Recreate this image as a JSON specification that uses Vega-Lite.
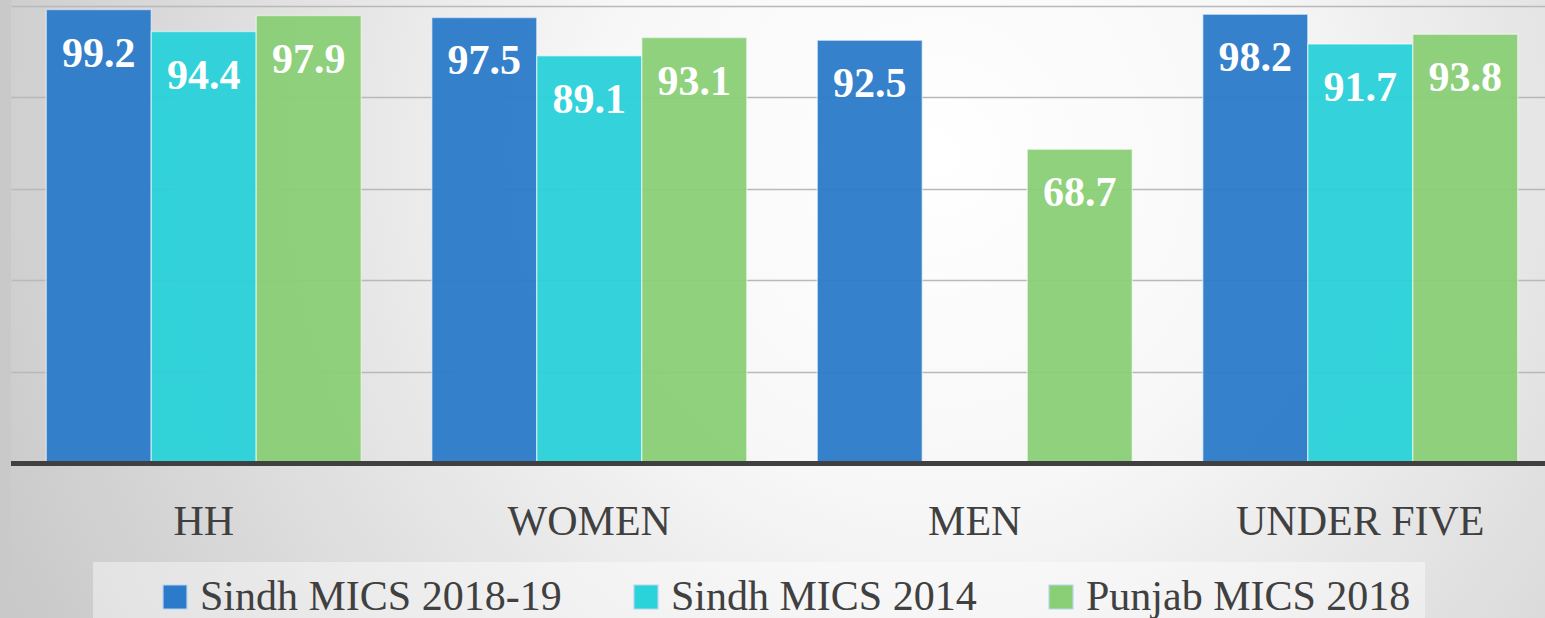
{
  "$schema": "https://vega.github.io/schema/vega-lite/v6.json",
  "autosize": "none",
  "width": 1542,
  "height": 618,
  "padding": {"left": 11, "top": 0, "right": 0, "bottom": 0},
  "background": "#c9c9c9",
  "config": {
    "view": {
      "stroke": null,
      "fill": {
        "gradient": "radial",
        "x1": 0.6, "y1": 0.4, "r1": 0,
        "x2": 0.6, "y2": 0.4, "r2": 0.75,
        "stops": [
          {"offset": 0, "color": "#ffffff"},
          {"offset": 0.3, "color": "#f7f7f7"},
          {"offset": 1, "color": "#c0c0c0"}
        ]
      }
    },
    "font": "Liberation Serif"
  },
  "data": {
    "values": [
      {"cat": "HH", "series": "Sindh MICS 2018-19", "value": 99.2},
      {"cat": "HH", "series": "Sindh MICS 2014", "value": 94.4},
      {"cat": "HH", "series": "Punjab MICS 2018", "value": 97.9},
      {"cat": "WOMEN", "series": "Sindh MICS 2018-19", "value": 97.5},
      {"cat": "WOMEN", "series": "Sindh MICS 2014", "value": 89.1},
      {"cat": "WOMEN", "series": "Punjab MICS 2018", "value": 93.1},
      {"cat": "MEN", "series": "Sindh MICS 2018-19", "value": 92.5},
      {"cat": "MEN", "series": "Punjab MICS 2018", "value": 68.7},
      {"cat": "UNDER FIVE", "series": "Sindh MICS 2018-19", "value": 98.2},
      {"cat": "UNDER FIVE", "series": "Sindh MICS 2014", "value": 91.7},
      {"cat": "UNDER FIVE", "series": "Punjab MICS 2018", "value": 93.8}
    ]
  },
  "encoding": {
    "x": {
      "field": "cat",
      "type": "nominal",
      "sort": ["HH", "WOMEN", "MEN", "UNDER FIVE"],
      "scale": {"paddingInner": 0.183, "paddingOuter": 0.0915},
      "axis": {
        "title": null,
        "orient": "bottom",
        "offset": -84,
        "domain": false,
        "ticks": false,
        "tickSize": 0,
        "labelPadding": 0,
        "labelBaseline": "alphabetic",
        "labelAngle": 0,
        "labelFont": "Liberation Serif",
        "labelFontSize": 42,
        "labelColor": "#404040",
        "labelLimit": 500,
        "grid": false
      }
    },
    "xOffset": {
      "field": "series",
      "type": "nominal",
      "scale": {"domain": ["Sindh MICS 2018-19", "Sindh MICS 2014", "Punjab MICS 2018"], "paddingInner": 0, "paddingOuter": 0}
    },
    "y": {
      "field": "value",
      "type": "quantitative",
      "scale": {"domain": [-33.8, 101.3], "nice": false, "zero": false},
      "axis": {
        "title": null,
        "labels": false,
        "ticks": false,
        "domain": false,
        "values": [20, 40, 60, 80, 100],
        "grid": true,
        "gridColor": "#b9b9b9",
        "gridWidth": 1.5
      }
    }
  },
  "layer": [
    {
      "mark": {"type": "bar", "opacity": 0.95, "stroke": "#ffffff", "strokeOpacity": 0.5, "strokeWidth": 1.5},
      "encoding": {
        "y2": {"datum": 0},
        "color": {
          "field": "series",
          "type": "nominal",
          "scale": {
            "domain": ["Sindh MICS 2018-19", "Sindh MICS 2014", "Punjab MICS 2018"],
            "range": ["#2b7bca", "#2ad2da", "#8acf76"]
          },
          "legend": {
            "title": null,
            "orient": "none",
            "legendX": 82,
            "legendY": 562,
            "direction": "horizontal",
            "padding": 14,
            "fillColor": "rgba(255,255,255,0.42)",
            "symbolType": "square",
            "symbolSize": 576,
            "symbolOpacity": 1,
            "symbolStrokeColor": "#b8d6ee",
            "symbolStrokeWidth": 1.2,
            "symbolOffset": 47,
            "labelOffset": 4,
            "columnPadding": 16,
            "labelFont": "Liberation Serif",
            "labelFontSize": 42,
            "labelColor": "#404040",
            "labelLimit": 600
          }
        }
      }
    },
    {
      "mark": {"type": "text", "font": "Liberation Serif", "fontWeight": "bold", "fontSize": 42, "color": "#ffffff", "baseline": "alphabetic", "dy": 57},
      "encoding": {
        "text": {"field": "value", "type": "quantitative", "format": ".1f"}
      }
    },
    {
      "mark": {"type": "rule", "color": "#404040", "strokeWidth": 4},
      "encoding": {"y": {"datum": 0}, "x": null, "xOffset": null}
    }
  ]
}
